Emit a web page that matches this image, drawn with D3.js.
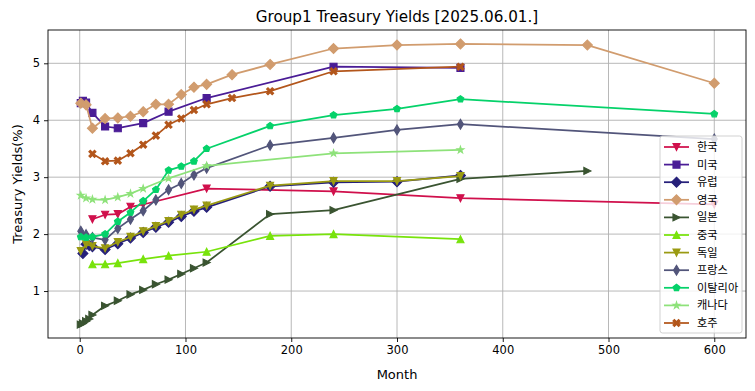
<!DOCTYPE html>
<html><head><meta charset="utf-8">
<script src="https://cdn.jsdelivr.net/npm/d3@7"></script>
<style>html,body{margin:0;padding:0;background:#fff;}svg{display:block;}</style>
</head><body>
<script>
// ---- data ----
const seriesNames = ["한국","미국","유럽","영국","일본","중국","독일","프랑스","이탈리아","캐나다","호주"];
const koreaMonths = [12,24,36,48,60,120,240,360,600];
const koreaYields = [2.26,2.34,2.35,2.48,2.52,2.80,2.75,2.63,2.52];
const usMonths = [1,3,6,12,24,36,60,84,120,240,360];
const usYields = [4.30,4.34,4.31,4.13,3.89,3.86,3.95,4.15,4.39,4.94,4.92];
const euroMonths = [3,6,9,12,24,36,48,60,72,84,96,108,120,180,240,300,360];
const euroYields = [1.66,1.82,1.80,1.78,1.73,1.83,1.93,2.03,2.12,2.21,2.31,2.40,2.47,2.84,2.91,2.92,3.03];
const ukMonths = [1,6,12,24,36,48,60,72,84,96,108,120,144,180,240,300,360,480,600];
const ukYields = [4.30,4.27,3.86,4.03,4.04,4.07,4.15,4.28,4.28,4.45,4.58,4.63,4.80,4.98,5.26,5.32,5.34,5.32,4.65];
const japanMonths = [1,3,6,9,12,24,36,48,60,72,84,96,108,120,180,240,360,480];
const japanYields = [0.41,0.43,0.47,0.51,0.58,0.74,0.83,0.94,1.02,1.12,1.20,1.30,1.40,1.50,2.35,2.42,2.97,3.11];
const chinaMonths = [12,24,36,60,84,120,180,240,360];
const chinaYields = [1.47,1.47,1.49,1.56,1.62,1.69,1.97,2.00,1.91];
const germanyMonths = [1,6,12,24,36,48,60,72,84,96,108,120,180,240,300,360];
const germanyYields = [1.70,1.82,1.79,1.75,1.86,1.95,2.05,2.14,2.23,2.34,2.43,2.50,2.85,2.93,2.93,3.02];
const franceMonths = [1,6,12,24,36,48,60,72,84,96,108,120,180,240,300,360,600];
const franceYields = [2.05,1.99,1.94,1.90,2.10,2.26,2.41,2.60,2.78,2.89,3.04,3.16,3.56,3.69,3.83,3.93,3.67];
const italyMonths = [1,6,12,24,36,48,60,72,84,96,108,120,180,240,300,360,600];
const italyYields = [1.95,1.94,1.95,2.00,2.22,2.38,2.58,2.78,3.12,3.19,3.28,3.50,3.90,4.09,4.20,4.37,4.11];
const canadaMonths = [1,6,12,24,36,48,60,84,120,240,360];
const canadaYields = [2.68,2.63,2.61,2.60,2.65,2.71,2.80,2.98,3.20,3.42,3.48];
const australiaMonths = [12,24,36,48,60,72,84,96,108,120,144,180,240,360];
const australiaYields = [3.41,3.28,3.29,3.42,3.57,3.73,3.92,4.03,4.18,4.28,4.39,4.51,4.86,4.94];
const xTicks = [0,100,200,300,400,500,600];
const yTicks = [1,2,3,4,5];
const titleText = "Group1 Treasury Yields [2025.06.01.]";
const xLabel = "Month";
const yLabel = "Treasury Yields(%)";

const colors = ["#d0104c","#4a1c96","#26207a","#d19c6e","#3a5431","#78e30c","#9a9a12","#52557a","#05d26a","#8ee27a","#b3561b"];
const markers = ["v","s","D","D","gt","^","v","d","p","*","X"];

const monthsList = [koreaMonths,usMonths,euroMonths,ukMonths,japanMonths,chinaMonths,germanyMonths,franceMonths,italyMonths,canadaMonths,australiaMonths];
const yieldsList = [koreaYields,usYields,euroYields,ukYields,japanYields,chinaYields,germanyYields,franceYields,italyYields,canadaYields,australiaYields];
const series = seriesNames.map((n,i)=>({name:n,color:colors[i],marker:markers[i],
  pts: monthsList[i].map((m,j)=>({m:m,v:yieldsList[i][j]}))}));

// ---- layout ----
const W=755,H=391;
const L=48,R=746,T=30,B=338;
const x=d3.scaleLinear().domain([-30,630]).range([L,R]);
const y=d3.scaleLinear().domain([0.175,5.585]).range([B,T]);
const FONT="DejaVu Sans";

const svg=d3.select("body").append("svg").attr("width",W).attr("height",H);
svg.append("rect").attr("width",W).attr("height",H).attr("fill","#fff");

// grid
const g=svg.append("g");
g.selectAll("line.gx").data(xTicks).enter().append("line")
  .attr("x1",d=>x(d)).attr("x2",d=>x(d)).attr("y1",T).attr("y2",B)
  .attr("stroke","#b0b0b0").attr("stroke-width",0.9);
g.selectAll("line.gy").data(yTicks).enter().append("line")
  .attr("x1",L).attr("x2",R).attr("y1",d=>y(d)).attr("y2",d=>y(d))
  .attr("stroke","#b0b0b0").attr("stroke-width",0.9);

function markerPath(type,s){
  const h=s/2;
  const poly=pts=>"M"+pts.map(p=>p[0].toFixed(2)+","+p[1].toFixed(2)).join("L")+"Z";
  switch(type){
    case "v": return poly([[-h,-h],[h,-h],[0,h]]);
    case "^": return poly([[-h,h],[h,h],[0,-h]]);
    case "gt": return poly([[-h,-h],[-h,h],[h,0]]);
    case "s": return poly([[-h,-h],[h,-h],[h,h],[-h,h]]);
    case "D": { const d=s*0.707; return poly([[0,-d],[d,0],[0,d],[-d,0]]); }
    case "d": { const d=s*0.707; return poly([[0,-d],[d*0.6,0],[0,d],[-d*0.6,0]]); }
    case "p": { const a=[]; for(let k=0;k<5;k++){const t=-Math.PI/2+k*2*Math.PI/5; a.push([h*Math.cos(t),h*Math.sin(t)]);} return poly(a); }
    case "*": { const a=[]; for(let k=0;k<10;k++){const r=(k%2===0)?h:h*0.382; const t=-Math.PI/2+k*Math.PI/5; a.push([r*Math.cos(t),r*Math.sin(t)]);} return poly(a); }
    case "X": { const q=h*0.4, o=h;
      return poly([[-o,-o+q],[-o+q,-o],[0,-q],[o-q,-o],[o,-o+q],[q,0],[o,o-q],[o-q,o],[0,q],[-o+q,o],[-o,o-q],[-q,0]]); }
  }
}
const MS=7;

const line=d3.line().x(d=>x(d.m)).y(d=>y(d.v));
const plot=svg.append("g");
series.forEach(s=>{
  const gs=plot.append("g");
  gs.append("path").datum(s.pts).attr("d",line).attr("fill","none")
    .attr("stroke",s.color).attr("stroke-width",1.75).attr("stroke-linejoin","round");
  gs.selectAll("path.mk").data(s.pts).enter().append("path")
    .attr("d",markerPath(s.marker,MS)).attr("transform",d=>`translate(${x(d.m)},${y(d.v)})`)
    .attr("fill",s.color).attr("stroke",s.color).attr("stroke-width",1.15);
});

// axes
const xAxis=d3.axisBottom(x).tickValues(xTicks).tickSize(4).tickPadding(4).tickFormat(d3.format("d"));
const yAxis=d3.axisLeft(y).tickValues(yTicks).tickSize(4).tickPadding(4).tickFormat(d3.format("d"));
const ax=svg.append("g").attr("transform",`translate(0,${B})`).call(xAxis);
const ay=svg.append("g").attr("transform",`translate(${L},0)`).call(yAxis);
[ax,ay].forEach(a=>{a.select(".domain").remove();
  a.selectAll("text").attr("font-family",FONT).attr("font-size","11.5px").attr("fill","#000");
  a.selectAll("line").attr("stroke","#000").attr("stroke-width",0.9);});
svg.append("rect").attr("x",L).attr("y",T).attr("width",R-L).attr("height",B-T)
  .attr("fill","none").attr("stroke","#000").attr("stroke-width",0.9);

// labels
svg.append("text").attr("x",(L+R)/2).attr("y",21.5).attr("text-anchor","middle")
  .attr("font-family",FONT).attr("font-size","15.2px").text(titleText);
svg.append("text").attr("x",(L+R)/2).attr("y",379).attr("text-anchor","middle")
  .attr("font-family",FONT).attr("font-size","13px").text(xLabel);
svg.append("text").attr("transform",`translate(22,${(T+B)/2}) rotate(-90)`).attr("text-anchor","middle")
  .attr("font-family",FONT).attr("font-size","13px").text(yLabel);

// legend
const lg=svg.append("g");
const lx=660, ly=136, rowH=17.6;
lg.append("rect").attr("x",lx).attr("y",ly).attr("width",82).attr("height",197).attr("rx",2.5)
  .attr("fill","#fff").attr("fill-opacity",0.8).attr("stroke","#cccccc").attr("stroke-width",0.9);
series.forEach((s,i)=>{
  const cy=ly+11+i*rowH;
  lg.append("line").attr("x1",lx+4).attr("x2",lx+29).attr("y1",cy).attr("y2",cy)
    .attr("stroke",s.color).attr("stroke-width",1.75);
  lg.append("path").attr("d",markerPath(s.marker,MS)).attr("transform",`translate(${lx+16.5},${cy})`)
    .attr("fill",s.color).attr("stroke",s.color).attr("stroke-width",1.15);
  lg.append("text").attr("x",lx+37).attr("y",cy+4).attr("font-family","Noto Sans CJK KR")
    .attr("font-size","11.2px").text(s.name);
});
</script>
</body></html>
